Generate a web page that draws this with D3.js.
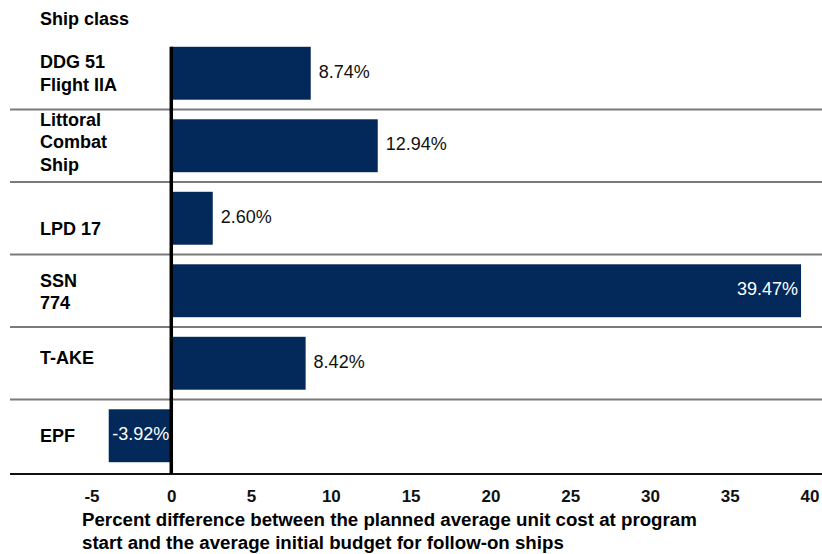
<!DOCTYPE html>
<html>
<head>
<meta charset="utf-8">
<script src="https://cdn.jsdelivr.net/npm/d3@7"></script>
<style>
  body { margin: 0; background: #fff; }
  svg { font-family: "Liberation Sans", Arial, sans-serif; }
</style>
</head>
<body>
<svg id="chart"></svg>
<script>
//chart data
const shipClasses = ["DDG 51\nFlight IIA", "Littoral\nCombat\nShip", "LPD 17", "SSN\n774", "T-AKE", "EPF"];
const pctDiff = [8.74, 12.94, 2.60, 39.47, 8.42, -3.92];
const xTicks = [-5, 0, 5, 10, 15, 20, 25, 30, 35, 40];
const axisTitle = ["Percent difference between the planned average unit cost at program",
                   "start and the average initial budget for follow-on ships"];

const w = 822, h = 554;
const barColor = "#02295a";

//small nudges so labels sit like the original
const labelNudge = [0, -4, 10, 1, -6, 0];

const svg = d3.select("#chart")
    .attr("width", w)
    .attr("height", h);

const rows = shipClasses.map((name, i) => ({ name, value: pctDiff[i], nudge: labelNudge[i] }));

//scales
const x = d3.scaleLinear()
    .domain([-5, 40])
    .range([91.5, 809.5]);

const y = d3.scaleBand()
    .domain(shipClasses)
    .range([37, 472])
    .paddingInner(0.27)
    .paddingOuter(0.135);

const step = y.step();

//header
svg.append("text")
    .attr("x", 40)
    .attr("y", 25)
    .style("font-size", "18px")
    .style("font-weight", "bold")
    .text("Ship class");

//row separators
svg.selectAll(".sep")
    .data(rows.slice(0, -1))
    .join("line")
    .attr("class", "sep")
    .attr("x1", 10).attr("x2", w)
    .attr("y1", d => y(d.name) + y.bandwidth() + (step - y.bandwidth()) / 2)
    .attr("y2", d => y(d.name) + y.bandwidth() + (step - y.bandwidth()) / 2)
    .style("stroke", "#7a7a7a")
    .style("stroke-width", 2);

//bars
svg.selectAll(".bar")
    .data(rows)
    .join("rect")
    .attr("class", "bar")
    .attr("x", d => x(Math.min(0, d.value)))
    .attr("width", d => Math.abs(x(d.value) - x(0)))
    .attr("y", d => y(d.name))
    .attr("height", y.bandwidth())
    .style("fill", barColor);

//bottom axis line
const axisY = y.range()[1] + 2;
svg.append("line")
    .attr("x1", 10).attr("x2", w)
    .attr("y1", axisY).attr("y2", axisY)
    .style("stroke", "#111")
    .style("stroke-width", 2);

//zero line
svg.append("line")
    .attr("x1", x(0)).attr("x2", x(0))
    .attr("y1", y(shipClasses[0])).attr("y2", axisY)
    .style("stroke", "#000")
    .style("stroke-width", 3.5);

//category labels
const cat = svg.selectAll(".cat")
    .data(rows)
    .join("text")
    .attr("class", "cat")
    .attr("x", 40)
    .style("font-size", "18px")
    .style("font-weight", "bold");

cat.each(function (d) {
    const lines = d.name.split("\n");
    const lh = 22.5;
    const cy = y(d.name) + y.bandwidth() / 2 + d.nudge;
    const start = cy - (lines.length - 1) * lh / 2;
    d3.select(this).selectAll("tspan")
        .data(lines)
        .join("tspan")
        .attr("x", 40)
        .attr("y", (l, i) => start + i * lh)
        .attr("dy", "0.35em")
        .text(l => l);
});

//value labels
const maxVal = d3.max(pctDiff);
svg.selectAll(".val")
    .data(rows)
    .join("text")
    .attr("class", "val")
    .attr("x", d => {
        if (d.value === maxVal) return x(d.value) - 3;
        if (d.value < 0) return x(0) - 2;
        return x(d.value) + 8;
    })
    .attr("y", d => y(d.name) + y.bandwidth() / 2 - 2)
    .attr("dy", "0.35em")
    .attr("text-anchor", d => (d.value === maxVal || d.value < 0) ? "end" : "start")
    .style("font-size", "18px")
    .style("fill", d => (d.value === maxVal || d.value < 0) ? "#fff" : "#111")
    .text(d => d.value.toFixed(2) + "%");

//x axis ticks
const xAxis = d3.axisBottom(x)
    .tickValues(xTicks)
    .tickSize(0)
    .tickPadding(0)
    .tickFormat(d => String(d));

const gx = svg.append("g")
    .attr("transform", `translate(0,${axisY + 16})`)
    .call(xAxis);
gx.select(".domain").remove();
gx.selectAll("text")
    .attr("dy", "0.71em")
    .style("font-family", "'Liberation Sans', Arial, sans-serif")
    .style("font-size", "17px")
    .style("font-weight", "bold")
    .style("fill", "#111");

//axis title
svg.append("text")
    .attr("x", 82)
    .style("font-size", "18.7px")
    .style("font-weight", "bold")
    .selectAll("tspan")
    .data(axisTitle)
    .join("tspan")
    .attr("x", 82)
    .attr("y", (d, i) => 526 + i * 22.5)
    .text(d => d);
</script>
</body>
</html>
